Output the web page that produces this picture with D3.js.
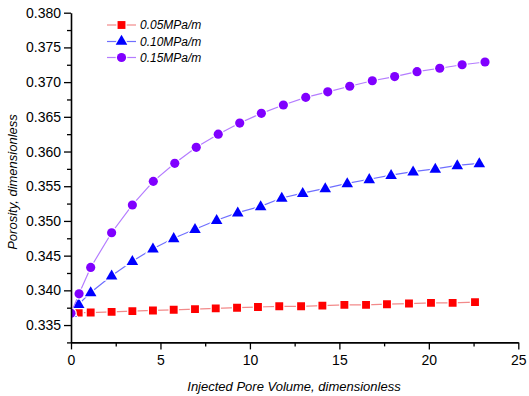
<!DOCTYPE html>
<html><head><meta charset="utf-8">
<script src="https://cdn.jsdelivr.net/npm/d3@7"></script>
<style>
html,body{margin:0;padding:0;background:#fff;}
svg{display:block;font-family:"Liberation Sans",Arial,sans-serif;}
</style></head>
<body><svg id="c" width="529" height="396"></svg>
<script>
const seriesNames = ["0.05MPa/m", "0.10MPa/m", "0.15MPa/m"];
const x005 = [0, 0.43, 1.10, 2.27, 3.43, 4.58, 5.74, 6.93, 8.09, 9.28, 10.45, 11.64, 12.86, 14.05, 15.28, 16.49, 17.66, 18.89, 20.12, 21.33, 22.58];
const y005 = [0.3367, 0.3368, 0.3368, 0.3369, 0.3370, 0.3371, 0.3372, 0.3373, 0.3374, 0.3375, 0.3376, 0.3377, 0.3377, 0.3378, 0.3379, 0.3379, 0.3380, 0.3381, 0.3382, 0.3382, 0.3383];
const x010 = [0, 0.43, 1.10, 2.27, 3.43, 4.58, 5.74, 6.93, 8.14, 9.32, 10.60, 11.78, 12.95, 14.21, 15.44, 16.67, 17.89, 19.12, 20.36, 21.59, 22.82];
const y010 = [0.3367, 0.3380, 0.3397, 0.3421, 0.3442, 0.3460, 0.3475, 0.3488, 0.3501, 0.3512, 0.3521, 0.3533, 0.3540, 0.3547, 0.3554, 0.3560, 0.3566, 0.3571, 0.3575, 0.3580, 0.3583];
const x015 = [0, 0.45, 1.10, 2.27, 3.43, 4.60, 5.80, 7.00, 8.23, 9.43, 10.64, 11.87, 13.12, 14.35, 15.58, 16.84, 18.09, 19.34, 20.61, 21.86, 23.14];
const y015 = [0.3367, 0.3395, 0.3433, 0.3483, 0.3523, 0.3557, 0.3583, 0.3606, 0.3625, 0.3641, 0.3655, 0.3667, 0.3678, 0.3686, 0.3694, 0.3702, 0.3708, 0.3715, 0.3720, 0.3725, 0.3729];
const xMajorTicks = [0, 5, 10, 15, 20, 25];
const xMinorTicks = [2.5, 7.5, 12.5, 17.5, 22.5];
const yMajorTicks = [0.335, 0.340, 0.345, 0.350, 0.355, 0.360, 0.365, 0.370, 0.375, 0.380];
const yMinorTicks = [0.3325, 0.3375, 0.3425, 0.3475, 0.3525, 0.3575, 0.3625, 0.3675, 0.3725, 0.3775];
const xTitle = "Injected Pore Volume, dimensionless";
const yTitle = "Porosity, dimensionless";

const svg = d3.select("#c");
const x = d3.scaleLinear().domain([0, 25]).range([71, 518.3]);
const y = d3.scaleLinear().domain([0.3325, 0.380]).range([342.4, 12.7]);

svg.append("defs").append("clipPath").attr("id", "plot")
  .append("rect").attr("x", x(0)).attr("y", 0).attr("width", x(25) - x(0) + 10).attr("height", y(0.3325));

const styles = [
  {line: "#f28a8a", fill: "#ff0000", sym: d3.symbolSquare, size: 62},
  {line: "#6f6fff", fill: "#0000ff", sym: d3.symbolTriangle, size: 58},
  {line: "#b47cff", fill: "#8000ff", sym: d3.symbolCircle, size: 66}
];
const series = [
  {name: seriesNames[0], xs: x005, ys: y005},
  {name: seriesNames[1], xs: x010, ys: y010},
  {name: seriesNames[2], xs: x015, ys: y015}
];

// series
const line = d3.line();
const plotG = svg.append("g").attr("clip-path", "url(#plot)");
series.forEach((s, i) => {
  const st = styles[i];
  const pts = s.xs.map((v, k) => [x(v), y(s.ys[k])]);
  plotG.append("path").attr("d", line(pts)).attr("fill", "none").attr("stroke", st.line).attr("stroke-width", 1.2);
  const sym = d3.symbol().type(st.sym).size(st.size);
  plotG.append("g").selectAll("path").data(pts).join("path")
    .attr("transform", d => `translate(${d[0]},${d[1] + (st.sym === d3.symbolTriangle ? 0.5 : 0)})`)
    .attr("d", sym).attr("fill", st.fill).attr("stroke", "#fff").attr("stroke-width", 2.5)
    .style("paint-order", "stroke");
});

// axes
const axisY = svg.append("g").attr("transform", `translate(${x(0)},0)`);
axisY.call(d3.axisLeft(y).tickValues(yMajorTicks).tickFormat(d3.format(".3f")).tickSize(7).tickSizeOuter(0).tickPadding(3));
axisY.append("g").call(d3.axisLeft(y).tickValues(yMinorTicks).tickFormat("").tickSize(4).tickSizeOuter(0)).select(".domain").remove();
const axisX = svg.append("g").attr("transform", `translate(0,${y(0.3325)})`);
axisX.call(d3.axisBottom(x).tickValues(xMajorTicks).tickFormat(d3.format("d")).tickSize(7).tickSizeOuter(0).tickPadding(6));
axisX.append("g").call(d3.axisBottom(x).tickValues(xMinorTicks).tickFormat("").tickSize(4).tickSizeOuter(0)).select(".domain").remove();
svg.selectAll(".domain").attr("stroke", "#000").attr("stroke-width", 1.6);
svg.selectAll(".tick line").attr("stroke", "#000").attr("stroke-width", 1.3);
svg.selectAll(".tick text").attr("font-size", 14).attr("fill", "#000").attr("font-family", "Liberation Sans, Arial, sans-serif");

// titles
svg.append("text").attr("x", 294).attr("y", 391).attr("text-anchor", "middle")
  .attr("font-size", 13).attr("font-style", "italic").text(xTitle);
svg.append("text").attr("transform", "translate(16.5,182) rotate(-90)").attr("text-anchor", "middle")
  .attr("font-size", 13).attr("font-style", "italic").text(yTitle);

// legend
const legY = [25, 41.5, 57.5];
series.forEach((s, i) => {
  const st = styles[i];
  const g = svg.append("g").attr("transform", `translate(0,${legY[i]})`);
  g.append("line").attr("x1", 107).attr("x2", 136).attr("y1", 0).attr("y2", 0).attr("stroke", st.line).attr("stroke-width", 1.2);
  g.append("path").attr("transform", "translate(121.5,0)").attr("d", d3.symbol().type(st.sym).size(st.size)())
    .attr("fill", st.fill).attr("stroke", "#fff").attr("stroke-width", 2.5).style("paint-order", "stroke");
  g.append("text").attr("x", 140).attr("y", 4.3).attr("font-size", 12).attr("font-style", "italic").text(s.name);
});
</script></body></html>
